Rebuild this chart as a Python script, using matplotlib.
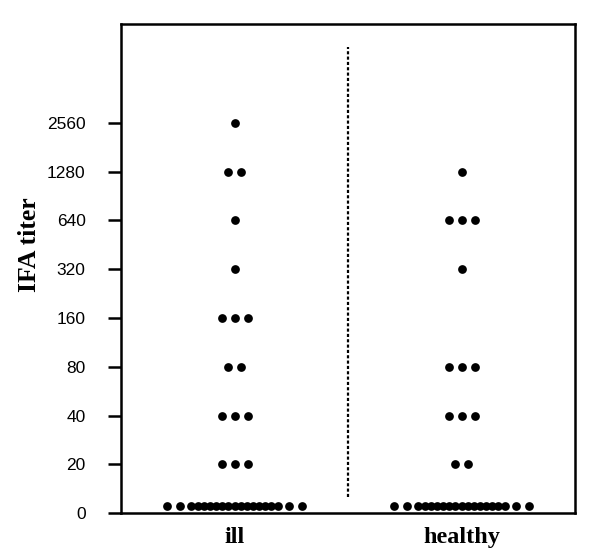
import matplotlib
matplotlib.use("Agg")
import matplotlib.pyplot as plt
import numpy as np

# Data
levels = ['0', '20', '40', '80', '160', '320', '640', '1280', '2560']
groups = ['ill', 'healthy']
ill_counts = [19, 3, 3, 2, 3, 1, 1, 2, 1]
healthy_counts = [19, 2, 3, 3, 0, 1, 3, 1, 0]

W, H = 600, 559
fig = plt.figure(figsize=(W / 100, H / 100), dpi=100)
ax_l, ax_r, ax_b, ax_t = 121, 575, 513, 24
ax = fig.add_axes([ax_l / W, (H - ax_b) / H, (ax_r - ax_l) / W, (ax_b - ax_t) / H])

px_per_x = (ax_r - ax_l) / 2.0          # data units: xlim (-0.5, 1.5)
px_per_y = (ax_b - 123) / 8.0


def offsets(n):
    if n <= 3:
        return [(i - (n - 1) / 2) * 13 for i in range(n)]
    dense = n - 4
    sp = 6.15
    half = (dense - 1) / 2 * sp
    mid = [(i - (dense - 1) / 2) * sp for i in range(dense)]
    outer = [half + 11, half + 24]
    return [-outer[1], -outer[0]] + mid + outer


for gi, counts in enumerate([ill_counts, healthy_counts]):
    xs, ys = [], []
    for li, n in enumerate(counts):
        yv = li if li > 0 else 7 / px_per_y
        for o in offsets(n):
            xs.append(gi + o / px_per_x)
            ys.append(yv)
    ax.plot(xs, ys, 'o', color='black', markersize=6.3, markeredgewidth=0, clip_on=False)

ax.set_xlim(-0.5, 1.5)
ax.set_ylim(0, (ax_b - ax_t) / px_per_y)

ax.plot([0.5, 0.5], [16 / px_per_y, (ax_b - 47) / px_per_y], color='black',
        linewidth=1.6, linestyle=(0, (1.4, 1.0)))

ax.set_yticks(range(len(levels)))
ax.set_yticklabels(levels, fontsize=12.5, fontfamily='Liberation Sans')
ax.tick_params(axis='y', length=9.5, width=1.8, pad=16, direction='out')
ax.set_xticks([0, 1])
ax.set_xticklabels(groups, fontsize=17.5, fontweight='bold', fontfamily='Liberation Serif')
ax.tick_params(axis='x', length=0, pad=10)

for s in ax.spines.values():
    s.set_linewidth(1.8)

fig.text(30 / W, 1 - 245 / H, 'IFA titer', rotation=90, ha='center', va='center',
         fontsize=18.5, fontweight='bold', fontfamily='Liberation Serif')

fig.savefig('out.png', dpi=100)
